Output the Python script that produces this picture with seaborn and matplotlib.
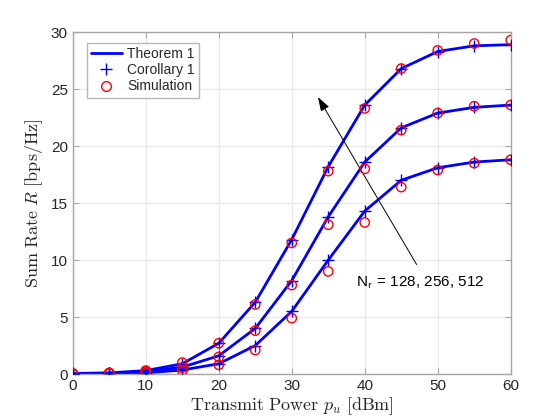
import numpy as np
import pandas as pd
import matplotlib
matplotlib.use("Agg")
import matplotlib.pyplot as plt
import seaborn as sns
from matplotlib.lines import Line2D

power = [0, 5, 10, 15, 20, 25, 30, 35, 40, 45, 50, 55, 60]
nr_labels = ["128", "256", "512"]

theorem_128 = [0.02, 0.05, 0.1, 0.35, 0.9, 2.5, 5.5, 10.0, 14.3, 17.0, 18.1, 18.6, 18.8]
theorem_256 = [0.03, 0.07, 0.2, 0.6, 1.6, 4.0, 8.2, 13.8, 18.6, 21.6, 22.9, 23.4, 23.6]
theorem_512 = [0.05, 0.1, 0.3, 0.9, 2.7, 6.3, 11.8, 18.2, 23.6, 26.8, 28.3, 28.8, 28.9]

corollary_128 = [0.02, 0.05, 0.1, 0.35, 0.9, 2.5, 5.5, 10.0, 14.3, 17.0, 18.1, 18.6, 18.8]
corollary_256 = [0.03, 0.07, 0.2, 0.6, 1.6, 4.0, 8.2, 13.8, 18.6, 21.6, 22.9, 23.4, 23.6]
corollary_512 = [0.05, 0.1, 0.3, 0.9, 2.7, 6.3, 11.8, 18.2, 23.6, 26.8, 28.3, 28.8, 28.9]

simulation_128 = [0.02, 0.05, 0.1, 0.3, 0.8, 2.1, 4.9, 9.0, 13.3, 16.4, 17.9, 18.5, 18.8]
simulation_256 = [0.03, 0.07, 0.2, 0.55, 1.5, 3.8, 7.8, 13.1, 18.0, 21.4, 22.9, 23.5, 23.6]
simulation_512 = [0.05, 0.1, 0.3, 1.0, 2.7, 6.1, 11.5, 17.8, 23.3, 26.8, 28.4, 29.0, 29.3]

def long(series_list):
    frames = []
    for lab, vals in zip(nr_labels, series_list):
        frames.append(pd.DataFrame({"p": power, "R": vals, "Nr": lab}))
    return pd.concat(frames, ignore_index=True)

df_th = long([theorem_128, theorem_256, theorem_512])
df_co = long([corollary_128, corollary_256, corollary_512])
df_si = long([simulation_128, simulation_256, simulation_512])

sns.set_style("white")
plt.rcParams["font.family"] = ["Liberation Sans", "DejaVu Sans"]
plt.rcParams["mathtext.fontset"] = "cm"

fig = plt.figure(figsize=(5.6, 4.2), dpi=100)
ax = fig.add_axes([0.130, 0.1095, 0.782, 0.814])

blue = (0, 0, 1)
sns.lineplot(data=df_th, x="p", y="R", units="Nr", estimator=None, color=blue,
             linewidth=2.0, ax=ax, legend=False, sort=False)
sns.scatterplot(data=df_co, x="p", y="R", marker="+", color=blue, s=70,
                linewidth=1.0, ax=ax, legend=False, zorder=3)
sns.scatterplot(data=df_si, x="p", y="R", marker="o", facecolor="none",
                edgecolor="red", s=45, linewidth=1.0, ax=ax, legend=False, zorder=4)

ax.set_xlim(0, 60)
ax.set_ylim(0, 30)
ax.set_xticks(range(0, 61, 10))
ax.set_yticks(range(0, 31, 5))
ax.grid(True, color="#e8e8e8", linewidth=0.8)
ax.set_axisbelow(True)
for sp in ax.spines.values():
    sp.set_color("#a6a6a6")
    sp.set_linewidth(1.0)
ax.tick_params(direction="in", length=4, color="#a6a6a6", labelsize=11,
               labelcolor="#262626", top=True, right=True, bottom=True, left=True)

ax.set_xlabel(r"$\mathrm{Transmit\ Power}\ p_u\ [\mathrm{dBm}]$", fontsize=13,
              color="#262626", labelpad=2)
ax.set_ylabel(r"$\mathrm{Sum\ Rate}\ R\ [\mathrm{bps/Hz}]$", fontsize=13,
              color="#262626", labelpad=4)

handles = [
    Line2D([], [], color=blue, linewidth=2.0),
    Line2D([], [], color=blue, marker="+", linestyle="none", markersize=8),
    Line2D([], [], color="red", marker="o", markerfacecolor="none", linestyle="none", markersize=7),
]
leg = ax.legend(handles, ["Theorem 1", "Corollary 1", "Simulation"], loc="upper left",
                bbox_to_anchor=(0.032, 0.968), fontsize=10, frameon=True, fancybox=False,
                borderpad=0.3, labelspacing=0.15, handlelength=2.2, handletextpad=0.4,
                borderaxespad=0)
leg.get_frame().set_edgecolor("#a6a6a6")
leg.get_frame().set_linewidth(1.0)

ax.annotate("", xy=(33.4, 24.5), xytext=(47.3, 9.4),
            arrowprops=dict(arrowstyle="-|>,head_length=0.6,head_width=0.2",
                            color="black", lw=0.7, mutation_scale=14))
ax.text(38.8, 8.0, r"N$_{\mathsf{r}}$ = 128, 256, 512", fontsize=11, va="center",
        ha="left", color="black")

fig.savefig("out.png", dpi=100, facecolor="white")
